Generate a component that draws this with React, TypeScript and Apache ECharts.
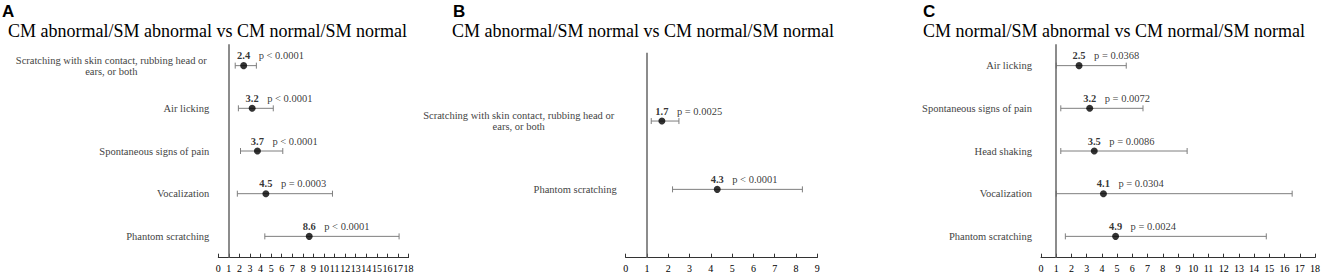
import React, { useEffect, useRef } from "react";
import * as echarts from "echarts";

// ---------- Panel A ----------
const aCategories = [
  "Scratching with skin contact, rubbing head or\nears, or both",
  "Air licking",
  "Spontaneous signs of pain",
  "Vocalization",
  "Phantom scratching",
];
const aOdds = [2.4, 3.2, 3.7, 4.5, 8.6];
const aLow = [1.6, 1.9, 2.1, 1.8, 4.4];
const aHigh = [3.6, 5.2, 6.1, 10.8, 17.1];
const aP = ["p < 0.0001", "p < 0.0001", "p < 0.0001", "p = 0.0003", "p < 0.0001"];

// ---------- Panel B ----------
const bCategories = [
  "Scratching with skin contact, rubbing head or\nears, or both",
  "Phantom scratching",
];
const bOdds = [1.7, 4.3];
const bLow = [1.2, 2.2];
const bHigh = [2.5, 8.3];
const bP = ["p = 0.0025", "p < 0.0001"];

// ---------- Panel C ----------
const cCategories = [
  "Air licking",
  "Spontaneous signs of pain",
  "Head shaking",
  "Vocalization",
  "Phantom scratching",
];
const cOdds = [2.5, 3.2, 3.5, 4.1, 4.9];
const cLow = [1.0, 1.3, 1.3, 1.0, 1.6];
const cHigh = [5.6, 6.7, 9.6, 16.5, 14.8];
const cP = ["p = 0.0368", "p = 0.0072", "p = 0.0086", "p = 0.0304", "p = 0.0024"];

const panelLetters = ["A", "B", "C"];
const panelTitles = [
  "CM abnormal/SM abnormal vs CM normal/SM normal",
  "CM abnormal/SM normal vs CM normal/SM normal",
  "CM normal/SM abnormal vs CM normal/SM normal",
];
const xMax = [18, 9, 18];
const referenceOdds = 1;

const SERIF = "'Liberation Serif', 'Times New Roman', serif";
const SANS = "'Liberation Sans', Arial, sans-serif";
const GREY = "#7f7f7f";

export default function App() {
  const ref = useRef<HTMLDivElement>(null);

  useEffect(() => {
    if (!ref.current) return;
    const chart = echarts.init(ref.current, null, { renderer: "svg" });

    const panels = [
      { cats: aCategories, axisCats: aCategories, offset: 0, odds: aOdds, low: aLow, high: aHigh, p: aP, boundaryGap: true },
      { cats: bCategories, axisCats: ["", ...bCategories, ""], offset: 1, odds: bOdds, low: bLow, high: bHigh, p: bP, boundaryGap: false },
      { cats: cCategories, axisCats: cCategories, offset: 0, odds: cOdds, low: cLow, high: cHigh, p: cP, boundaryGap: true },
    ];

    const grids = [
      { left: 218.3, top: 44.3, width: 190.3, height: 213.4 },
      { left: 625.7, top: 52.7, width: 191.6, height: 205 },
      { left: 1041, top: 44.3, width: 274, height: 213.4 },
    ];

    const titleLeft = [8, 452, 923];
    const letterLeft = [2, 453, 923];

    const titles: any[] = [];
    panelLetters.forEach((l, i) => {
      titles.push({
        text: l,
        left: letterLeft[i],
        top: 3,
        textStyle: { fontFamily: SANS, fontWeight: "bold", fontSize: 17, color: "#000" },
        padding: 0,
      });
      titles.push({
        text: panelTitles[i],
        left: titleLeft[i],
        top: 22,
        textStyle: { fontFamily: SERIF, fontWeight: "normal", fontSize: 18, color: "#000" },
        padding: 0,
      });
    });

    const xAxes = panels.map((_, i) => ({
      type: "value",
      gridIndex: i,
      min: 0,
      max: xMax[i],
      interval: 1,
      splitLine: { show: false },
      axisLine: { show: true, lineStyle: { color: "#333", width: 1 } },
      axisTick: { show: true, inside: true, length: 4, lineStyle: { color: "#333" } },
      axisLabel: { color: "#000", fontFamily: SERIF, fontSize: 10, margin: 6 },
    }));

    const yAxes = panels.map((pn, i) => ({
      type: "category",
      gridIndex: i,
      data: pn.axisCats,
      inverse: true,
      boundaryGap: pn.boundaryGap,
      axisLine: { show: false },
      axisTick: { show: false },
      splitLine: { show: false },
      axisLabel: {
        color: "#444",
        fontFamily: SERIF,
        fontSize: 10.5,
        margin: 9,
        lineHeight: 11,
        formatter: (v: string) => (v.indexOf("\n") >= 0 ? `{w|${v}}` : v),
        rich: {
          w: { width: 196, align: "center", fontFamily: SERIF, fontSize: 10.5, lineHeight: 11, color: "#444" },
        },
      },
    }));

    const series: any[] = [];
    panels.forEach((pn, i) => {
      series.push({
        type: "custom",
        xAxisIndex: i,
        yAxisIndex: i,
        dimensions: ["low", "high", "row"],
        encode: { x: [0, 1], y: 2 },
        data: pn.cats.map((_, k) => [pn.low[k], pn.high[k], k + pn.offset]),
        renderItem: (params: any, api: any) => {
          const lo = api.coord([api.value(0), api.value(2)]);
          const hi = api.coord([api.value(1), api.value(2)]);
          const h = 3;
          const st = { stroke: GREY, lineWidth: 1, fill: "none" };
          return {
            type: "group",
            children: [
              { type: "line", shape: { x1: lo[0], y1: lo[1], x2: hi[0], y2: hi[1] }, style: st },
              { type: "line", shape: { x1: lo[0], y1: lo[1] - h, x2: lo[0], y2: lo[1] + h }, style: st },
              { type: "line", shape: { x1: hi[0], y1: hi[1] - h, x2: hi[0], y2: hi[1] + h }, style: st },
            ],
          };
        },
        z: 1,
      });
      series.push({
        type: "scatter",
        xAxisIndex: i,
        yAxisIndex: i,
        symbol: "circle",
        symbolSize: 7,
        itemStyle: { color: "#000" },
        data: pn.cats.map((_, k) => [pn.odds[k], k + pn.offset]),
        label: {
          show: true,
          position: "top",
          distance: 1,
          formatter: (p: any) => Number(p.value[0]).toFixed(1),
          fontFamily: SERIF,
          fontWeight: "bold",
          fontSize: 10.5,
          color: "#000",
        },
        markLine: {
          silent: true,
          symbol: "none",
          label: { show: false },
          lineStyle: { color: "#666", width: 1.5, type: "solid" },
          data: [{ xAxis: referenceOdds }],
        },
        z: 3,
      });
      series.push({
        type: "scatter",
        xAxisIndex: i,
        yAxisIndex: i,
        symbol: "circle",
        symbolSize: 7,
        itemStyle: { color: "rgba(0,0,0,0)" },
        data: pn.cats.map((_, k) => [pn.odds[k], k + pn.offset]),
        label: {
          show: true,
          position: "top",
          distance: 1,
          align: "left",
          offset: [15, 0],
          formatter: (p: any) => pn.p[p.dataIndex],
          fontFamily: SERIF,
          fontSize: 10.5,
          color: "#000",
        },
        z: 2,
      });
    });

    chart.setOption({
      animation: false,
      backgroundColor: "#fff",
      title: titles,
      grid: grids,
      xAxis: xAxes,
      yAxis: yAxes,
      series,
    });

    return () => chart.dispose();
  }, []);

  return (
    <div
      ref={ref}
      style={{ position: "fixed", left: 0, top: 0, width: 1325, height: 279, background: "#fff" }}
    />
  );
}
